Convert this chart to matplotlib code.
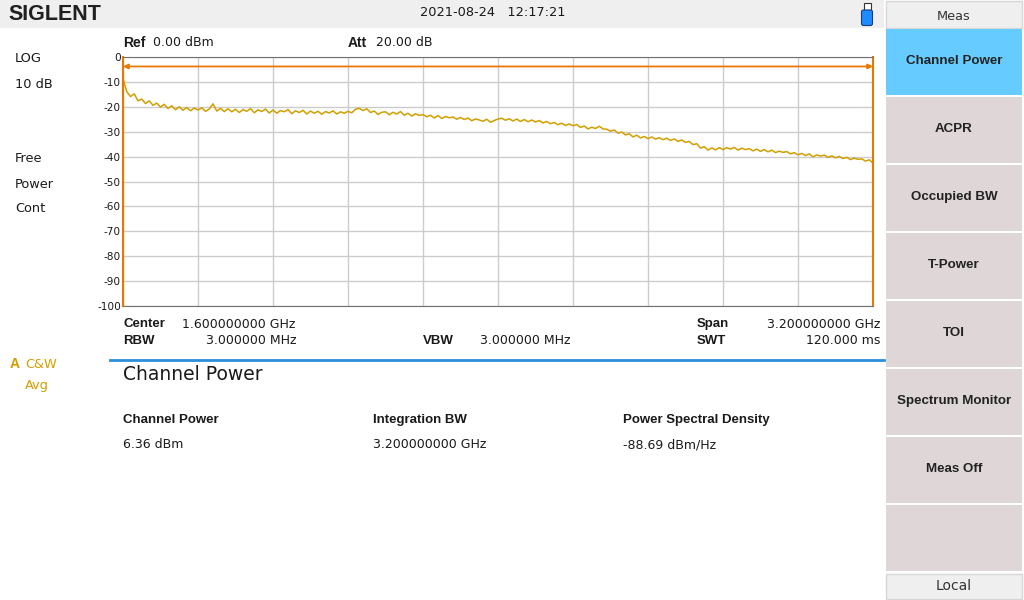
import matplotlib.pyplot as plt
from matplotlib.patches import Rectangle, FancyBboxPatch
import numpy as np

W, H = 1024, 600

# sweep: 0 .. 3.2 GHz span, trace A (C&W, Avg) in dBm
span_ghz = 3.2
trace_dbm = [
    -8.6, -13.9, -15.9, -14.8, -17.6, -16.9, -18.7, -17.6, -19.4, -18.5,
    -20.1, -19.0, -20.7, -19.6, -21.2, -20.0, -21.4, -20.3, -21.6, -20.5,
    -21.3, -20.4, -21.8, -20.9, -18.8, -21.7, -20.6, -21.9, -20.8, -22.0,
    -21.0, -22.3, -21.1, -21.8, -20.7, -22.4, -21.2, -21.9, -20.9, -22.5,
    -21.3, -22.6, -21.5, -22.0, -21.1, -22.8, -21.6, -22.3, -21.4, -22.9,
    -21.7, -22.6, -21.8, -23.0, -21.9, -22.5, -21.6, -22.9, -22.0, -22.6,
    -21.8, -22.4, -21.0, -20.6, -21.5, -20.8, -22.3, -21.7, -23.1, -22.2,
    -22.0, -23.2, -22.2, -22.9, -21.9, -23.4, -22.6, -23.7, -22.8, -23.5,
    -23.1, -24.0, -23.4, -24.5, -23.5, -24.7, -23.9, -24.4, -24.1, -25.0,
    -24.3, -25.1, -24.5, -25.6, -24.9, -25.3, -25.8, -25.0, -26.2, -25.5,
    -24.9, -24.6, -25.4, -24.8, -25.7, -24.9, -25.9, -25.1, -26.0, -25.3,
    -26.1, -25.5, -26.5, -25.9, -26.8, -26.3, -27.2, -26.6, -27.5, -26.9,
    -27.6, -27.1, -28.3, -27.7, -28.9, -28.2, -28.7, -27.8, -28.9, -29.0,
    -29.8, -29.3, -30.6, -30.1, -31.3, -30.8, -32.1, -31.4, -32.5, -31.9,
    -32.8, -32.1, -33.0, -32.4, -33.2, -32.6, -33.5, -32.9, -33.9, -33.3,
    -34.3, -33.9, -35.2, -34.8, -36.6, -36.0, -37.4, -36.5, -37.3, -36.4,
    -37.2, -36.4, -37.0, -36.3, -37.4, -36.6, -37.2, -36.8, -37.7, -37.0,
    -37.9, -37.2, -38.1, -37.4, -38.4, -37.8, -38.3, -38.0, -38.9, -38.4,
    -39.3, -38.7, -39.6, -38.9, -40.1, -39.3, -39.8, -39.4, -40.3, -39.7,
    -40.5, -39.9, -40.8, -40.3, -41.2, -40.6, -41.1, -40.9, -41.8, -41.3,
    -42.6,
]
ref_level = 0
bottom_level = -100
ytick_labels = ['0', '-10', '-20', '-30', '-40', '-50', '-60', '-70', '-80', '-90', '-100']
channel_marker_db = -3.8

menu_items = ['Channel Power', 'ACPR', 'Occupied BW', 'T-Power', 'TOI',
              'Spectrum Monitor', 'Meas Off', '']
left_labels = ['LOG', '10 dB', 'Free', 'Power', 'Cont']
result_names = ['Channel Power', 'Integration BW', 'Power Spectral Density']
result_values = ['6.36 dBm', '3.200000000 GHz', '-88.69 dBm/Hz']

GOLD = '#d29f00'
ORANGE = '#e87800'
TXT = '#1a1a1a'
NORMAL = 'DejaVu Sans'
BOLD = 'Liberation Sans'

fig = plt.figure(figsize=(W / 100, H / 100), dpi=100)
fig.patch.set_facecolor('white')

# background layer in pixel coordinates
bg = fig.add_axes([0, 0, 1, 1])
bg.set_xlim(0, W)
bg.set_ylim(H, 0)
bg.axis('off')


def txt(x, y, s, size=9, bold=False, ha='left', color=TXT, family=None):
    fam = family or (BOLD if bold else NORMAL)
    bg.text(x, y, s, fontsize=size, fontweight='bold' if bold else 'normal',
            ha=ha, va='center', color=color, family=fam)


# top bar
bg.add_patch(Rectangle((0, 0), 884, 28, color='#efefef', lw=0))
txt(8, 14, 'SIGLENT', size=15.5, bold=True, color='#202020')
txt(420, 13, '2021-08-24   12:17:21', size=9.3)
# usb icon
bg.add_patch(Rectangle((863.5, 3), 7, 7, facecolor='white', edgecolor='#333333', lw=0.8))
bg.add_patch(FancyBboxPatch((861.5, 10), 11, 15.5, boxstyle='round,pad=0,rounding_size=2',
                            facecolor='#1e8cff', edgecolor='#1a3a80', lw=0.8))

# right menu
bg.add_patch(Rectangle((886, 1), 136, 27, facecolor='#efefef', edgecolor='#d6d6d6', lw=1))
txt(954, 16, 'Meas', size=9.3, ha='center', color='#333333')
for i, item in enumerate(menu_items):
    top = 29 + 68 * i
    face = '#66ccff' if i == 0 else '#ded6d7'
    bg.add_patch(Rectangle((886, top), 136, 66, color=face, lw=0))
    txt(954, top + 32, item, size=9.6, bold=True, ha='center', color='#222222')
bg.add_patch(Rectangle((886, 574), 136, 25, facecolor='#efefef', edgecolor='#d6d6d6', lw=1))
txt(954, 586, 'Local', size=10, ha='center', color='#333333')

# left status labels
for lbl, y in zip(left_labels, [59, 84, 159, 184, 209]):
    txt(15, y, lbl, size=9.3)
txt(10, 364, 'A', size=10, bold=True, color=GOLD)
txt(25, 364, 'C&W', size=9.3, color=GOLD)
txt(25, 385, 'Avg', size=9.3, color=GOLD)

# header above grid
txt(123, 43, 'Ref', size=10, bold=True)
txt(153, 43, '0.00 dBm', size=9)
txt(348, 43, 'Att', size=10, bold=True)
txt(376, 43, '20.00 dB', size=9)

# footer below grid
txt(123, 324, 'Center', size=9.5, bold=True)
txt(182, 324, '1.600000000 GHz', size=9)
txt(123, 341, 'RBW', size=9.5, bold=True)
txt(297, 341, '3.000000 MHz', size=9, ha='right')
txt(423, 341, 'VBW', size=9.5, bold=True)
txt(480, 341, '3.000000 MHz', size=9)
txt(697, 324, 'Span', size=9.5, bold=True)
txt(880, 324, '3.200000000 GHz', size=9, ha='right')
txt(697, 341, 'SWT', size=9.5, bold=True)
txt(880, 341, '120.000 ms', size=9, ha='right')

# measurement results
bg.plot([110, 884], [360, 360], color='#2b8fd9', lw=2)
txt(123, 374, 'Channel Power', size=13.5)
for (name, val), x in zip(zip(result_names, result_values), [123, 373, 623]):
    txt(x, 420, name, size=9.5, bold=True)
    txt(x, 445, val, size=9)

# spectrum grid
ax = fig.add_axes([123 / W, 1 - 306 / H, 750 / W, 249 / H])
freq_ghz = np.linspace(0, span_ghz, len(trace_dbm))
ax.set_xlim(0, span_ghz)
ax.set_ylim(bottom_level, ref_level)
ax.set_xticks(np.linspace(0, span_ghz, 11))
ax.set_xticklabels([])
ax.set_yticks(np.arange(bottom_level, ref_level + 1, 10)[::-1])
ax.set_yticklabels(ytick_labels)
ax.tick_params(length=0, pad=1.5, labelsize=7.6, labelcolor=TXT)
ax.grid(color='#cccccc', lw=1)
ax.set_axisbelow(True)
for side in ['top', 'bottom']:
    ax.spines[side].set_color('#707070')
for side in ['left', 'right']:
    ax.spines[side].set_visible(False)

ax.plot(freq_ghz, trace_dbm, color=GOLD, lw=1.1)
ax.axvline(0, color=ORANGE, lw=1.5, clip_on=False)
ax.axvline(span_ghz, color=ORANGE, lw=1.5, clip_on=False)
ax.annotate('', xy=(0, channel_marker_db), xytext=(span_ghz, channel_marker_db),
            arrowprops=dict(arrowstyle='<|-|>', color=ORANGE, lw=1.3,
                            mutation_scale=7, shrinkA=0, shrinkB=0))

fig.savefig('out.png', dpi=100)
